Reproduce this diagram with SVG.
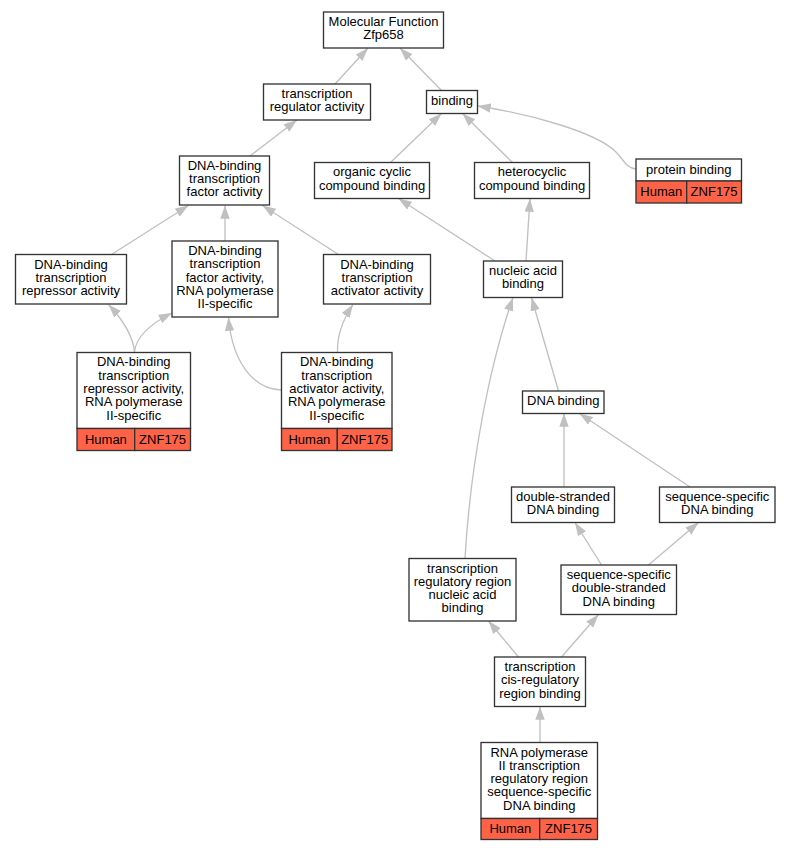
<svg xmlns="http://www.w3.org/2000/svg" width="791" height="851" viewBox="0 0 791 851">
<style>
.n rect{fill:#fff;stroke:#333;stroke-width:1.33}
.n rect.h{fill:#ff6347}
text{font-family:"Liberation Sans",Arial,sans-serif;font-size:13px;text-anchor:middle;fill:#000}
.e path{fill:none;stroke:#c0c0c0;stroke-width:1.33;marker-end:url(#a)}
</style>
<defs>
<marker id="a" markerWidth="13.3" markerHeight="9.4" refX="13.3" refY="4.7" orient="auto" markerUnits="userSpaceOnUse">
<path d="M0,0 L13.3,4.7 L0,9.4 z" fill="#c0c0c0"/>
</marker>
</defs>
<rect width="791" height="851" fill="#fff"/>
<g id="edges" class="e">
<path d="M335,84 L368,48"/>
<path d="M441.5,90.5 L400,48"/>
<path d="M250,156 L297,120"/>
<path d="M390.5,162.5 L441.5,113.5"/>
<path d="M512.5,162.5 L462.5,113.5"/>
<path d="M636,169 C626,168 624,160 616,152 C596,132 530,114 477.5,106"/>
<path d="M111.5,254.5 L188.5,205.5"/>
<path d="M225,241 L225,205.5"/>
<path d="M338.5,254.5 L262.5,205.5"/>
<path d="M495,261 L398.5,198.5"/>
<path d="M526,261 L530,198.5"/>
<path d="M134.5,352 C133,336 124,321 108.5,304.5"/>
<path d="M134.5,352 C136,336 150,324 172,313"/>
<path d="M281,390 C252,389 232,360 228.5,317.5"/>
<path d="M337.5,352 C337,338 342,321 353,304.5"/>
<path d="M558.5,391 L531.5,297.5"/>
<path d="M465,558.5 C470,470 488,370 513,297.5"/>
<path d="M564,487 L564,413.5"/>
<path d="M690,487 L579.5,413.5"/>
<path d="M601.5,565 L575,522.5"/>
<path d="M648.5,565 L698.5,522.5"/>
<path d="M518.5,657 L488.5,621"/>
<path d="M561.5,657 L598.5,614.5"/>
<path d="M540,742.5 L540,706.5"/>
</g>
<g id="n1" class="n"><rect x="323.5" y="12" width="120" height="36"/><text x="383.5" y="25.7">Molecular Function</text><text x="383.5" y="39">Zfp658</text></g>
<g id="n2" class="n"><rect x="263.5" y="84" width="107" height="36"/><text x="317" y="97.8">transcription</text><text x="317" y="111.1">regulator activity</text></g>
<g id="n3" class="n"><rect x="426.5" y="90.5" width="51" height="23"/><text x="452" y="104.5">binding</text></g>
<g id="n4" class="n"><rect x="179.5" y="156" width="90" height="49"/><text x="224.5" y="169.7">DNA-binding</text><text x="224.5" y="183">transcription</text><text x="224.5" y="196.3">factor activity</text></g>
<g id="n5" class="n"><rect x="314.5" y="162.5" width="115" height="36"/><text x="372" y="176.3">organic cyclic</text><text x="372" y="189.6">compound binding</text></g>
<g id="n6" class="n"><rect x="474.5" y="162.5" width="115" height="36"/><text x="532" y="176.3">heterocyclic</text><text x="532" y="189.6">compound binding</text></g>
<g id="n7" class="n"><rect x="636" y="159" width="105.5" height="22"/><rect class="h" x="636" y="181" width="50.7" height="22"/><rect class="h" x="686.7" y="181" width="54.8" height="22"/><text x="688.75" y="173.8">protein binding</text><text x="661.3" y="195.5">Human</text><text x="714.1" y="195.5">ZNF175</text></g>
<g id="n8" class="n"><rect x="15.5" y="254.5" width="111" height="49.5"/><text x="71" y="268.6">DNA-binding</text><text x="71" y="281.9">transcription</text><text x="71" y="295.2">repressor activity</text></g>
<g id="n9" class="n"><rect x="172" y="241" width="106" height="76"/><text x="225" y="254.9">DNA-binding</text><text x="225" y="268.2">transcription</text><text x="225" y="281.5">factor activity,</text><text x="225" y="294.8">RNA polymerase</text><text x="225" y="308.1">II-specific</text></g>
<g id="n10" class="n"><rect x="323.5" y="254.5" width="107" height="49.5"/><text x="377" y="268.6">DNA-binding</text><text x="377" y="281.9">transcription</text><text x="377" y="295.2">activator activity</text></g>
<g id="n11" class="n"><rect x="483.5" y="261" width="79" height="36.5"/><text x="523" y="274.6">nucleic acid</text><text x="523" y="287.9">binding</text></g>
<g id="n12" class="n"><rect x="77" y="352.5" width="113.5" height="76"/><rect class="h" x="77" y="428.5" width="57.7" height="22"/><rect class="h" x="134.7" y="428.5" width="55.8" height="22"/><text x="133.75" y="366.4">DNA-binding</text><text x="133.75" y="379.7">transcription</text><text x="133.75" y="393">repressor activity,</text><text x="133.75" y="406.3">RNA polymerase</text><text x="133.75" y="419.6">II-specific</text><text x="105.9" y="443.5">Human</text><text x="162.6" y="443.5">ZNF175</text></g>
<g id="n13" class="n"><rect x="281.5" y="352.5" width="110.5" height="76"/><rect class="h" x="281.5" y="428.5" width="55.8" height="22"/><rect class="h" x="337.3" y="428.5" width="54.7" height="22"/><text x="336.75" y="366.4">DNA-binding</text><text x="336.75" y="379.7">transcription</text><text x="336.75" y="393">activator activity,</text><text x="336.75" y="406.3">RNA polymerase</text><text x="336.75" y="419.6">II-specific</text><text x="309.4" y="443.5">Human</text><text x="364.65" y="443.5">ZNF175</text></g>
<g id="n14" class="n"><rect x="522.5" y="391" width="81.5" height="22.5"/><text x="563.25" y="404.8">DNA binding</text></g>
<g id="n15" class="n"><rect x="511.5" y="487" width="103" height="35.5"/><text x="563" y="500.6">double-stranded</text><text x="563" y="513.9">DNA binding</text></g>
<g id="n16" class="n"><rect x="659.5" y="487" width="115.5" height="35.5"/><text x="717.25" y="500.6">sequence-specific</text><text x="717.25" y="513.9">DNA binding</text></g>
<g id="n17" class="n"><rect x="409" y="558.5" width="107" height="62.5"/><text x="462.5" y="572.5">transcription</text><text x="462.5" y="585.8">regulatory region</text><text x="462.5" y="599.1">nucleic acid</text><text x="462.5" y="612.4">binding</text></g>
<g id="n18" class="n"><rect x="561" y="565" width="115.5" height="49.5"/><text x="618.75" y="579">sequence-specific</text><text x="618.75" y="592.3">double-stranded</text><text x="618.75" y="605.6">DNA binding</text></g>
<g id="n19" class="n"><rect x="494.5" y="657" width="91" height="49.5"/><text x="540" y="670.9">transcription</text><text x="540" y="684.2">cis-regulatory</text><text x="540" y="697.5">region binding</text></g>
<g id="n20" class="n"><rect x="481" y="742.5" width="116.5" height="76"/><rect class="h" x="481" y="818.5" width="58.7" height="21"/><rect class="h" x="539.7" y="818.5" width="57.8" height="21"/><text x="539.25" y="756.5">RNA polymerase</text><text x="539.25" y="769.8">II transcription</text><text x="539.25" y="783.1">regulatory region</text><text x="539.25" y="796.4">sequence-specific</text><text x="539.25" y="809.7">DNA binding</text><text x="510.35" y="832.6">Human</text><text x="568.6" y="832.6">ZNF175</text></g>
</svg>
